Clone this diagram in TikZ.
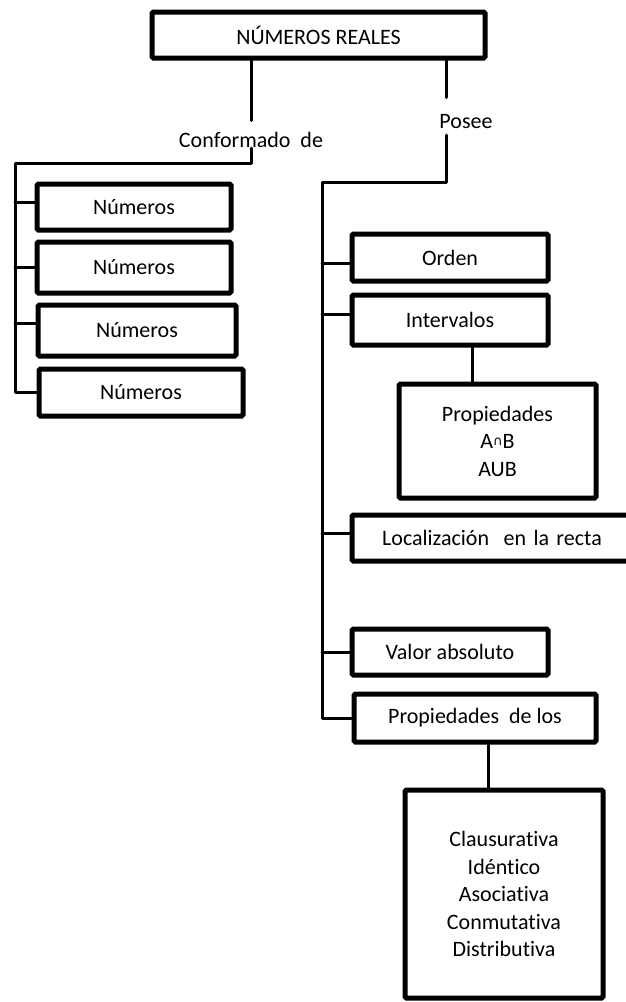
\documentclass[tikz,border=0pt]{standalone}
\usepackage{fontspec}
\setmainfont[Ligatures=NoCommon]{Carlito}
\newfontfamily\symfont{DejaVu Sans}
\begin{document}
\begin{tikzpicture}[x=1pt,y=-1pt,
  box/.style={draw=black,line width=5pt,rounded corners=1.5pt,fill=white,inner sep=0pt,align=center,
    font=\fontsize{22}{27.5}\selectfont,text=black},
  lbl/.style={inner sep=0pt,font=\fontsize{22}{27.5}\selectfont,text=black},
  conn/.style={draw=black,line width=3pt,line cap=round,line join=round}]
\useasboundingbox (0,0) rectangle (626,1002);
\clip (0,0) rectangle (626,1002);
% nodes
\node[box,minimum width=333pt,minimum height=46pt] (top) at (318.5,35) {NÚMEROS REALES};
\node[lbl] (conf) at (251,140) {Conformado\ \ de};
\node[lbl] (posee) at (466,122) {Posee};
\node[box,minimum width=194pt,minimum height=46pt] (n1) at (134,207) {Números};
\node[box,minimum width=194pt,minimum height=51pt] (n2) at (134,267.5) {Números};
\node[box,minimum width=198pt,minimum height=51pt] (n3) at (137,330.5) {Números};
\node[box,minimum width=204pt,minimum height=47pt] (n4) at (141,392.5) {Números};
\node[box,minimum width=196pt,minimum height=47pt] (orden) at (450,257.5) {Orden};
\node[box,minimum width=196pt,minimum height=50pt] (interv) at (450,320) {Intervalos};
\node[box,minimum width=197pt,minimum height=114pt] (prop) at (497.5,441)
  {Propiedades\\A\raisebox{3pt}{\fontsize{13}{13}\symfont ∩}B\\AUB};
\node[box,minimum width=288pt,minimum height=46pt,text width=280pt] (loc) at (496,538)
  {Localización\ \ en la recta\hspace*{8pt}};
\node[box,minimum width=196pt,minimum height=46pt] (valor) at (450,652) {Valor absoluto};
\node[box,minimum width=242pt,minimum height=48pt] (propde) at (475,718) {Propiedades\ \ de los};
\node[box,minimum width=198pt,minimum height=208pt] (final) at (504,894)
  {Clausurativa\\Idéntico\\Asociativa\\Conmutativa\\Distributiva};
% helper coordinates
\coordinate (lsp) at (15,163);
\coordinate (rsp) at (322,182);
\coordinate (c1) at (472,0);
\coordinate (c2) at (488,0);
% connectors
\draw[conn] (top.south -| 251,0) -- ++(0,60);
\draw[conn] (251,148) -- (251,163) -- (lsp) -- (lsp |- n4.west) -- (n4.west);
\draw[conn] (lsp |- 0,202) -- (n1.west |- 0,202);
\draw[conn] (lsp |- n2.west) -- (n2.west);
\draw[conn] (lsp |- 0,323) -- (n3.west |- 0,323);
\draw[conn] (top.south -| 446,0) -- ++(0,37);
\draw[conn] (446,135) -- (446,182) -- (rsp) -- (rsp |- propde.west) -- (propde.west);
\draw[conn] (rsp |- 0,263) -- (orden.west |- 0,263);
\draw[conn] (rsp |- 0,314) -- (interv.west |- 0,314);
\draw[conn] (rsp |- 0,533) -- (loc.west |- 0,533);
\draw[conn] (rsp |- valor.west) -- (valor.west);
\draw[conn] (interv.south -| c1) -- (prop.north -| c1);
\draw[conn] (propde.south -| c2) -- (final.north -| c2);
\end{tikzpicture}
\end{document}
